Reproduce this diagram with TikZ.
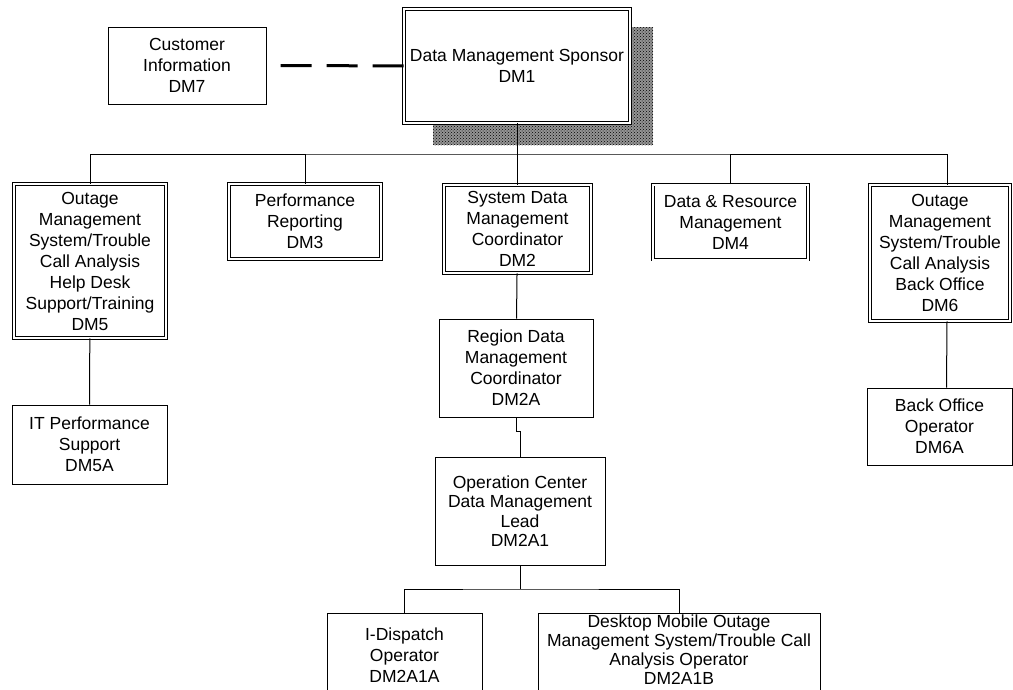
\documentclass[tikz,border=0pt]{standalone}
\usepackage{fontspec}
\setmainfont{Liberation Sans}
\usetikzlibrary{patterns}

\begin{document}
\begin{tikzpicture}[x=1pt,y=-1pt,
    box/.style={rectangle, draw, line width=1pt, fill=white, align=center, inner sep=2pt,
      font=\fontsize{17.5}{21}\selectfont},
    dblbox/.style={box, double, double distance=2pt, line width=0.8pt}]
  \useasboundingbox (0,0) rectangle (1013,689);

  % grainy shadow under the sponsor box
  \fill[black!42] (433,27) rectangle (653,145);
  \fill[pattern=crosshatch dots, pattern color=black] (433,27) rectangle (653,145);

  \node (dm1) at (517,66) [dblbox, minimum width=226pt, minimum height=114pt] {Data Management Sponsor\\DM1};
  \node (dm7) at (187,65.5) [box, minimum width=158pt, minimum height=77pt] {Customer\\Information\\DM7};

  % second level
  \node (dm5) at (90,261) [dblbox, minimum width=152pt, minimum height=154pt]
    {Outage\\Management\\System/Trouble\\Call Analysis\\Help Desk\\Support/Training\\DM5};
  \node (dm3) at (305,221.5) [dblbox, minimum width=152pt, minimum height=75pt] {Performance\\Reporting\\DM3};
  \node (dm2) at (517.5,229) [dblbox, minimum width=147pt, minimum height=88pt] {System Data\\Management\\Coordinator\\DM2};
  \node (dm4) at (730.5,222) [dblbox, minimum width=155pt, minimum height=75pt] {Data \& Resource\\Management\\DM4};
  \node (dm6) at (940,253) [dblbox, minimum width=140pt, minimum height=136pt]
    {Outage\\Management\\System/Trouble\\Call Analysis\\Back Office\\DM6};

  % third level and below
  \node (dm5a) at (89.5,444.5) [box, minimum width=155pt, minimum height=79pt] {IT Performance\\Support\\DM5A};
  \node (dm2a) at (516,368) [box, minimum width=154pt, minimum height=98pt] {Region Data\\Management\\Coordinator\\DM2A};
  \node (dm6a) at (939.5,426.5) [box, minimum width=145pt, minimum height=77pt] {Back Office\\Operator\\DM6A};
  \node (dm2a1) at (520,511) [box, minimum width=170pt, minimum height=108pt, font=\fontsize{17.5}{19.5}\selectfont]
    {Operation Center\\Data Management\\Lead\\DM2A1};
  \node (dm2a1a) at (404.5,655) [box, minimum width=155pt, minimum height=84pt] {I-Dispatch\\Operator\\DM2A1A};
  % empty last line lifts the text toward the top edge
  \node (dm2a1b) at (679,659) [box, minimum width=282pt, minimum height=92pt, inner sep=0pt, font=\fontsize{17.5}{19}\selectfont]
    {Desktop Mobile Outage\\Management System/Trouble Call\\Analysis Operator\\DM2A1B\\\mbox{}};

  % connectors
  \draw[line width=3pt, dash pattern=on 31pt off 15pt, dash phase=32pt] (dm7) -- (dm1);
  \coordinate (bus) at (517,154);
  \coordinate (lowbus) at (520,589);
  \draw[line width=1pt] (dm1) -- (bus);
  \draw[line width=1pt] (dm5) |- (bus) -| ([xshift=7pt]dm6.north);
  \foreach \n in {dm3,dm2,dm4}
    \draw[line width=1pt] (\n) -- (\n |- bus);
  \draw[line width=1pt] (dm5) -- (dm5a);
  \draw[line width=1pt] (dm2) -- (dm2a);
  \draw[line width=1pt] (dm2a.south) -- ++(0,14) -| (dm2a1.north);
  \draw[line width=1pt] ([xshift=7pt]dm6.south) -- ([xshift=7pt]dm6a.north);
  \draw[line width=1pt] (dm2a1) -- (lowbus);
  \draw[line width=1pt] (dm2a1a) |- (lowbus) -| (dm2a1b);
\end{tikzpicture}
\end{document}
